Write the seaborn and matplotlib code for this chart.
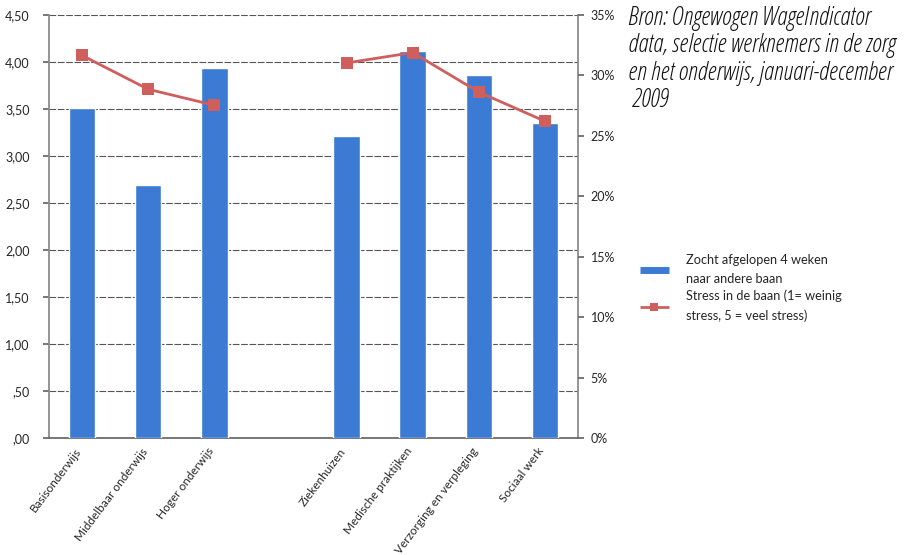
import matplotlib
matplotlib.use("Agg")
import matplotlib.pyplot as plt
import matplotlib.transforms as mtransforms
import seaborn as sns
import pandas as pd
import numpy as np
from matplotlib.lines import Line2D
from matplotlib.ticker import FixedLocator

# ---- data ----
categories = ["Basisonderwijs", "Middelbaar onderwijs", "Hoger onderwijs", "",
              "Ziekenhuizen", "Medische praktijken", "Verzorging en verpleging", "Sociaal werk"]
zocht_pct = [27.3, 20.9, 30.6, None, 25.0, 32.0, 30.0, 26.1]   # % searched for other job
stress = [4.07, 3.71, 3.54, None, 3.99, 4.10, 3.68, 3.37]      # stress score 1-5
left_ticks = [0, 0.5, 1.0, 1.5, 2.0, 2.5, 3.0, 3.5, 4.0, 4.5]
left_labels = [",00", ",50", "1,00", "1,50", "2,00", "2,50", "3,00", "3,50", "4,00", "4,50"]
right_ticks = [0, 5, 10, 15, 20, 25, 30, 35]
right_labels = ["0%", "5%", "10%", "15%", "20%", "25%", "30%", "35%"]
legend_labels = ["Zocht afgelopen 4 weken\nnaar andere baan",
                 "Stress in de baan (1= weinig\nstress, 5 = veel stress)"]
source_text = ("Bron: Ongewogen WageIndicator\ndata, selectie werknemers in de zorg\n"
               "en het onderwijs, januari-december\n 2009")

sns.set_theme(style="white")
plt.rcParams["font.family"] = ["Lato", "DejaVu Sans"]

BLUE = "#3b7bd3"
RED = "#cf5f5d"
GRID = "#555555"
NCAT = len(categories)

fig = plt.figure(figsize=(9.05, 5.55), dpi=100)
# background axes: stress scale, grid + left ticks
ax_bg = fig.add_axes([49 / 905, 117 / 555, (578 - 49) / 905, (438 - 15) / 555])
ax_bg.set_ylim(0, 4.5)
ax_bg.set_xlim(-0.5, NCAT - 0.5)

df = pd.DataFrame({"cat": categories, "pct": zocht_pct, "stress": stress})
df["pos"] = np.arange(NCAT)

# bars axes: percentage scale, right ticks
ax_bar = ax_bg.twinx()
bars_df = df.dropna(subset=["pct"])
sns.barplot(data=bars_df, x="pos", y="pct", order=list(range(NCAT)),
            color=BLUE, saturation=1, width=0.4, ax=ax_bar)
ax_bar.set_ylim(0, 35)
ax_bar.set_xlim(-0.5, NCAT - 0.5)
ax_bar.set_ylabel("")
ax_bar.set_xlabel("")

# line axes: stress scale, no ticks
ax_line = ax_bg.twinx()
ax_line.set_ylim(0, 4.5)
for seg in (df.iloc[0:3], df.iloc[4:8]):
    sns.lineplot(data=seg, x="pos", y="stress", ax=ax_line, color=RED, lw=2,
                 marker="s", markersize=8, markeredgewidth=0, markerfacecolor=RED,
                 legend=False)
ax_line.set_xlim(-0.5, NCAT - 0.5)
ax_line.set_ylabel("")
ax_line.set_xlabel("")
ax_line.set_yticks([])
ax_line.tick_params(axis="x", bottom=False, labelbottom=False)

# left axis (stress) with grid
ax_bg.yaxis.tick_left()
ax_bg.yaxis.set_major_locator(FixedLocator(left_ticks))
ax_bg.set_yticklabels(left_labels)
ax_bg.tick_params(axis="y", which="both", right=False, labelright=False, left=True, labelleft=True,
                  length=4, color="#666666", labelsize=9, pad=10, direction="out")
ax_bg.yaxis.grid(True, color=GRID, lw=0.8, ls=(0, (6, 1.5)))
ax_bg.xaxis.grid(False)

# right axis (percent)
ax_bar.yaxis.tick_right()
ax_bar.yaxis.set_major_locator(FixedLocator(right_ticks))
ax_bar.set_yticklabels(right_labels)
ax_bar.tick_params(axis="y", which="both", left=False, labelleft=False, right=True, labelright=True,
                   length=4, color="#666666", labelsize=9, pad=5, direction="out")
ax_bar.patch.set_visible(False)
ax_bar.tick_params(axis="x", bottom=False, labelbottom=False)

# x ticks on background axes
ax_bg.set_xticks(range(NCAT))
ax_bg.set_xticklabels(categories, rotation=53, ha="right", va="center",
                      rotation_mode="anchor", fontsize=8.5)
ax_bg.tick_params(axis="x", length=0, pad=8)
offset = mtransforms.ScaledTranslation(-3 / 100, 0, fig.dpi_scale_trans)
for lab in ax_bg.get_xticklabels():
    lab.set_transform(lab.get_transform() + offset)
ax_bg.set_xticks(np.arange(-0.5, NCAT, 1), minor=True)
ax_bg.tick_params(axis="x", which="minor", length=4, color="#555555", direction="out")

for a in (ax_bg, ax_bar, ax_line):
    for s in a.spines.values():
        s.set_visible(False)
ax_bg.spines["bottom"].set_visible(True)
ax_bg.spines["bottom"].set_color("#666666")
ax_bg.spines["left"].set_visible(True)
ax_bg.spines["left"].set_color("#888888")
ax_bg.spines["right"].set_visible(True)
ax_bg.spines["right"].set_color("#888888")

# legend
handles = [Line2D([0], [0], color=BLUE, lw=5, solid_capstyle="butt"),
           Line2D([0], [0], color=RED, lw=2, marker="s", markersize=6, markeredgewidth=0,
                  solid_capstyle="butt")]
leg = fig.legend(handles, legend_labels, loc="upper left",
                 bbox_to_anchor=(628 / 905, 1 - 242 / 555),
                 frameon=False, fontsize=9.2, handlelength=2.3, labelspacing=0.35,
                 handletextpad=1.3)
for t in leg.get_texts():
    t.set_linespacing(1.75)

fig.text(628 / 905, 1 - 6 / 555, source_text, ha="left", va="top", fontsize=18,
         style="italic", color="#111111", linespacing=1.12,
         family=["Open Sans", "DejaVu Sans"], fontstretch="condensed")

fig.savefig("out.png", dpi=100)
